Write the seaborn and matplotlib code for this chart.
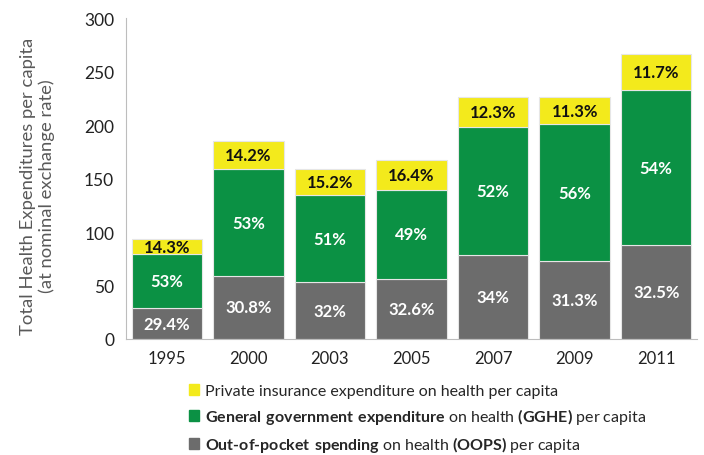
import seaborn as sns
import matplotlib.pyplot as plt
from matplotlib.patches import Patch

# values (stacked segment heights)
years = ['1995', '2000', '2003', '2005', '2007', '2009', '2011']
oops = [28.7, 59.2, 53.0, 56.4, 78.8, 72.9, 88.1]
gghe = [50.7, 99.4, 81.3, 82.9, 119.6, 128.0, 144.3]
private = [14.1, 26.7, 24.9, 27.7, 28.0, 25.5, 34.0]

oops_labels = ['29.4%', '30.8%', '32%', '32.6%', '34%', '31.3%', '32.5%']
gghe_labels = ['53%', '53%', '51%', '49%', '52%', '56%', '54%']
private_labels = ['14.3%', '14.2%', '15.2%', '16.4%', '12.3%', '11.3%', '11.7%']

legend_labels = [
    'Private insurance expenditure on health per capita',
    r'$\bf{General\ government\ expenditure}$ on health $\bf{(GGHE)}$ per capita',
    '$\\bf{Out\u2010of\u2010pocket\\ spending}$ on health $\\bf{(OOPS)}$ per capita',
]

c_yellow = '#F3EA1C'
c_green = '#0B9144'
c_gray = '#6C6C6C'

sns.set_style('white')
plt.rcParams['font.family'] = ['Lato', 'DejaVu Sans']
plt.rcParams['mathtext.fontset'] = 'custom'
plt.rcParams['mathtext.bf'] = 'Lato:bold'
plt.rcParams['mathtext.rm'] = 'Lato'

fig = plt.figure(figsize=(7.04, 4.56), dpi=100)
ax = fig.add_axes([0.179, 0.2544, 0.811, 0.7035])

bottom2 = [a + b for a, b in zip(oops, gghe)]
kw = dict(width=0.865, edgecolor='#e6e6e6', linewidth=0.8, ax=ax)
sns.barplot(x=years, y=oops, color=c_gray, saturation=1, **kw)
sns.barplot(x=years, y=gghe, bottom=oops, color=c_green, saturation=1, **kw)
sns.barplot(x=years, y=private, bottom=bottom2, color=c_yellow, saturation=1, **kw)

label_sets = [(oops_labels, 'white'), (gghe_labels, 'white'), (private_labels, '#111111')]
for cont, (labs, col) in zip(ax.containers, label_sets):
    ax.bar_label(cont, labels=labs, label_type='center', color=col,
                 fontsize=12, fontweight='bold')

ax.set_ylim(0, 300)
ax.set_yticks(range(0, 301, 50))
ax.set_xlim(-0.5, 6.5)
sns.despine(ax=ax)
for s in ['left', 'bottom']:
    ax.spines[s].set_color('#bdbdbd')
ax.tick_params(axis='y', length=5, color='#bdbdbd', labelsize=12.5, labelcolor='#222222')
ax.tick_params(axis='x', which='major', length=0, labelsize=12, labelcolor='#222222', pad=8)
ax.set_xticks([i - 0.5 for i in range(8)], minor=True)
ax.tick_params(axis='x', which='minor', length=5, color='#bdbdbd')

ax.set_ylabel('Total Health Expenditures per capita\n(at nominal exchange rate)',
              fontsize=13.3, color='#595959', linespacing=1.15)
ax.yaxis.set_label_coords(-0.125, 0.48)

handles = [Patch(color=c_yellow), Patch(color=c_green), Patch(color=c_gray)]
fig.legend(handles, legend_labels, loc='upper left', bbox_to_anchor=(0.268, 0.155),
           frameon=False, fontsize=11.5, handlelength=0.65, handleheight=0.65,
           handletextpad=0.4, labelspacing=0.5, borderaxespad=0, borderpad=0)

plt.savefig('out.png', dpi=100)
